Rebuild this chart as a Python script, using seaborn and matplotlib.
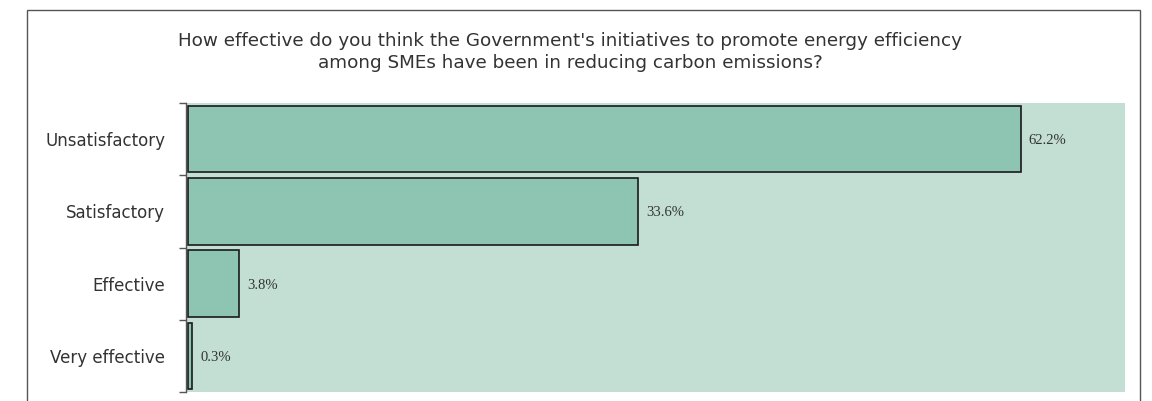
import matplotlib
matplotlib.use("Agg")
import matplotlib.pyplot as plt
import seaborn as sns
import pandas as pd
from matplotlib.patches import Rectangle

categories = ["Unsatisfactory", "Satisfactory", "Effective", "Very effective"]
values = [62.2, 33.6, 3.8, 0.3]
value_labels = ["62.2%", "33.6%", "3.8%", "0.3%"]
title = ("How effective do you think the Government's initiatives to promote energy efficiency\n"
         "among SMEs have been in reducing carbon emissions?")

sns.set_theme(style="white")
plt.rcParams['font.family'] = ['DejaVu Sans']

df = pd.DataFrame({"category": categories, "value": values})

fig = plt.figure(figsize=(11.52, 4.01), dpi=100)
fig.patch.set_facecolor("white")
# outer frame
fig.patches.append(Rectangle((27/1152, -0.1), (1140-27)/1152, 1.1 - 10/401,
                             transform=fig.transFigure, fill=False,
                             edgecolor="#555555", linewidth=1.0))

ax = fig.add_axes([186/1152, 1 - 392/401, (1125-186)/1152, (392-103)/401])
ax.set_facecolor("#c3dfd4")
sns.barplot(data=df, x="value", y="category", orient="h", ax=ax,
            color="#8dc4b2", saturation=1, edgecolor="#1a1a1a",
            linewidth=1.2, width=0.92)

ax.set_xlim(-0.15, 70)
ax.set_ylim(3.5, -0.5)
ax.set_xlabel("")
ax.set_ylabel("")
ax.set_xticks([])
for s in ["top", "right", "bottom"]:
    ax.spines[s].set_visible(False)
ax.spines["left"].set_color("#555555")
ax.spines["left"].set_linewidth(1.0)
ax.set_yticks(range(len(categories)))
ax.set_yticklabels(categories, fontsize=12, color="#333333")
ax.tick_params(axis="y", which="major", length=0, pad=15)
ax.set_yticks([-0.5, 0.5, 1.5, 2.5, 3.5], minor=True)
ax.tick_params(axis="y", which="minor", length=5, width=1.0, color="#555555", left=True)

for i, (v, lab) in enumerate(zip(values, value_labels)):
    ax.text(v + 0.6, i + 0.02, lab, va="center", ha="left", fontsize=10.5,
            family="Liberation Serif", color="#333333")

fig.text(570/1152, 1 - 52/401, title, ha="center", va="center",
         fontsize=13.2, color="#333333", linespacing=1.25)

fig.savefig("out.png", dpi=100)
